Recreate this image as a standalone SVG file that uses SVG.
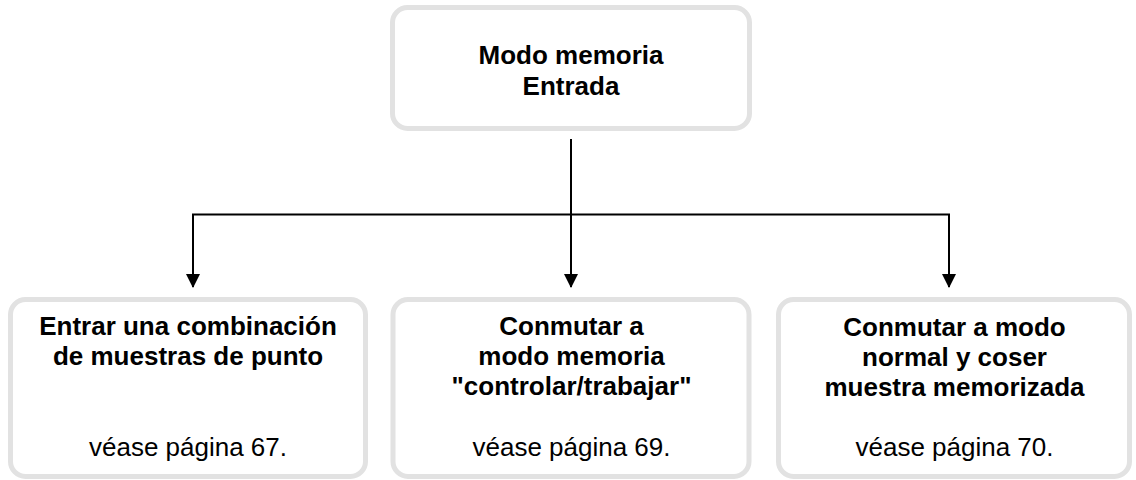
<svg xmlns="http://www.w3.org/2000/svg" width="1136" height="480" viewBox="0 0 1136 480">
  <style>
    .box { fill: #ffffff; stroke: #e2e2e2; stroke-width: 5; }
    .t { font-family: "Liberation Sans", Arial, sans-serif; font-size: 26px; fill: #000; text-anchor: middle; }
    .b { font-weight: bold; }
    .edge { fill: none; stroke: #000; stroke-width: 2; }
  </style>
  <defs>
    <marker id="arr" markerUnits="userSpaceOnUse" markerWidth="16" markerHeight="14" refX="13" refY="7" orient="auto">
      <path d="M0,0 L14,7 L0,14 Z" fill="#000"/>
    </marker>
  </defs>
  <rect width="1136" height="480" fill="#ffffff"/>

  <g id="connectors">
    <path class="edge" d="M571,139 V287" marker-end="url(#arr)"/>
    <path class="edge" d="M193,287 V214.5 H949 V287" marker-end="url(#arr)"/>
    <path class="edge" d="M193,216 V287" marker-end="url(#arr)"/>
  </g>

  <g id="node-top">
    <rect class="box" x="392.5" y="7.5" width="357" height="121" rx="15"/>
    <text class="t b" x="571" y="64">Modo memoria</text>
    <text class="t b" x="571" y="95">Entrada</text>
  </g>

  <g id="node-left">
    <rect class="box" x="10.5" y="299.5" width="355" height="177" rx="15"/>
    <text class="t b" x="188" y="335">Entrar una combinación</text>
    <text class="t b" x="188" y="365">de muestras de punto</text>
    <text class="t" x="188" y="456">véase página 67.</text>
  </g>

  <g id="node-middle">
    <rect class="box" x="393" y="299.5" width="356" height="177" rx="15"/>
    <text class="t b" x="571.5" y="335">Conmutar a</text>
    <text class="t b" x="571.5" y="365">modo memoria</text>
    <text class="t b" x="571.5" y="395">"controlar/trabajar"</text>
    <text class="t" x="571.5" y="456">véase página 69.</text>
  </g>

  <g id="node-right">
    <rect class="box" x="778.5" y="299.5" width="351" height="177" rx="15"/>
    <text class="t b" x="954.5" y="336">Conmutar a modo</text>
    <text class="t b" x="954.5" y="366">normal y coser</text>
    <text class="t b" x="954.5" y="396">muestra memorizada</text>
    <text class="t" x="954.5" y="456">véase página 70.</text>
  </g>
</svg>
